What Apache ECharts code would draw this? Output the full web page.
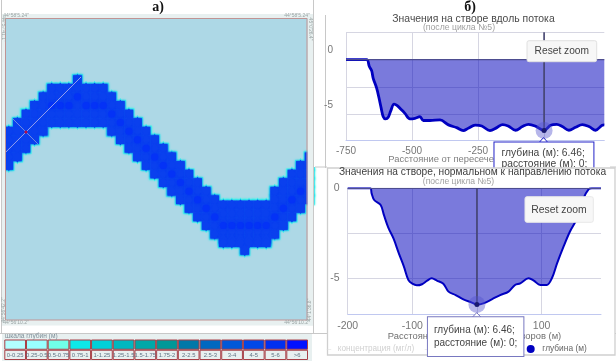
<!DOCTYPE html>
<html><head><meta charset="utf-8">
<style>html,body{margin:0;padding:0;background:#fff}#c{width:616px;height:361px}</style>
<script src="https://cdn.jsdelivr.net/npm/echarts@6/dist/echarts.min.js"></script>
</head><body><div id="c"></div>
<script>
// River depth raster: top and bottom row of the channel in each raster column
const riverTop    = [14,13,12,11,10,9,9,9,8,9,9,9,10,11,12,13,14,15,16,17,18,19,20,21,22,22.6,22.6,22.6,22.6,22.6,22.6,21,20,19,18,17];
const riverBottom = [18,17,16,15,14,13,13,13,13,13,13,13,14,15,16,17,18,19,20,21,22,23,24,25,26,27,27,27,27,27,27,26,25,24,23,22];
const riverBumps  = [[27.5,27.9]];
const deepCells   = [[5,11],[6,11],[7,11],[8,10],[9,11],[10,11],[11,11],[12,12],[13,13],[14,14],[15,15],[16,16],[17,17],[18,18],[19,19],[20,20],[21,21],[22,22],[23,23],[24,24],[25,25],[26,25],[27,25],[28,25],[29,25],[30,25],[31,24],[32,23],[33,22],[34,21]];
const sectionAlong = [[-0.33,16.43],[8.42,7.69]];
const sectionAcross = [[0.49,12.59],[3.4,15.5]];
const sectionCross = [[2.0,14.1]];

const scaleLabels = ['0-0.25','0.25-0.5','0.5-0.75','0.75-1','1-1.25','1.25-1.5','1.5-1.75','1.75-2','2-2.5','2.5-3','3-4','4-5','5-6','>6'];
const scaleColors = ['#b2ffff','#99ffff','#70ffe8','#0de8e8','#00d0d8','#00b8c0','#00a8a8','#009898','#0078a8','#0068c0','#0058d8','#0048e8','#0030f0','#0010ff'];

const alongDist = [-750,-672,-662,-653,-647,-634,-625,-617,-609,-600,-590,-581,-568,-556,-539,-527,-508,-489,-470,-457,-432,-394,-362,-331,-306,-287,-261,-236,-205,-179,-157,-136,-108,-82,-59,-34,0,25,48,69,94,119,145,170,195,220,228];
const alongDepth = [0,0,-0.6,-1,-1.7,-2.6,-3.5,-4.4,-5.2,-5.4,-5.25,-4.7,-4.06,-4.2,-4.6,-4.9,-5.4,-5.35,-5.2,-5.55,-5.55,-5.5,-5.95,-6.2,-6.47,-6.26,-5.98,-6.05,-6.47,-6.2,-5.92,-6.05,-6.44,-6.1,-5.9,-6.05,-6.46,-5.98,-5.9,-6.1,-6.44,-6.17,-5.92,-6.1,-6.44,-5.98,-5.95];
const crossDist = [-200,-165,-163,-159,-149,-144,-137,-129,-121,-113,-106,-100,-93,-85,-77,-70,-62,-52,-44,-33,-21,-8,0,10,23,36,49,59,67,80,88,98,108,116,124,134,144,155,165,173,178,192];
const crossDepth = [0,0,-0.28,-0.65,-0.93,-1.48,-2.2,-2.8,-3.6,-4.35,-5.1,-5.3,-5.39,-5.33,-5.13,-5,-5.13,-5.3,-5.74,-5.93,-6.17,-6.35,-6.46,-6.39,-6.17,-5.93,-5.74,-5.37,-5.28,-5,-5.13,-5.37,-5.37,-5,-4.17,-3.24,-2.4,-1.67,-0.56,-0.05,0,0];
const selectedDepth = 6.46, selectedDist = 0;

const FONT = '"Liberation Sans", Arial, sans-serif';
const cells = [];
riverTop.forEach((t,c)=>{ for(let r=t;r<riverBottom[c];r++) cells.push([c,r]); cells.push([c,riverBottom[c]]); });
riverBumps.forEach(p=>cells.push(p));

function lattice(symbol,size,color,z,extra){
  return {type:'scatter',xAxisIndex:0,yAxisIndex:0,data:cells.map(c=>c.slice()),symbol,symbolSize:size,clip:true,
    itemStyle:Object.assign({color,opacity:1},extra||{}),silent:true,z};
}
function zip(a,b){return a.map((v,i)=>[v,b[i]]);}
function depthChart(ax,x,y,lw,z,tipBorder,tipFont,tipLine,tipPad,tipPos){
  return [
   {type:'line',xAxisIndex:ax,yAxisIndex:ax,data:zip(x,y),smooth:0.35,showSymbol:false,z,
    lineStyle:{color:'#0000c0',width:lw},areaStyle:{color:'#0000bb',opacity:0.52}},
   {type:'line',xAxisIndex:ax,yAxisIndex:ax,data:[[x[0],0],[x[x.length-1],0]],showSymbol:false,z,
    lineStyle:{color:'#4d4d90',width:1.2}},
   {type:'line',xAxisIndex:ax,yAxisIndex:ax,data:[[selectedDist,ax===2?2.5:0],[selectedDist,-selectedDepth]],showSymbol:false,z,
    lineStyle:{color:'#45456f',width:1.6}},
   {type:'scatter',xAxisIndex:ax,yAxisIndex:ax,data:[[selectedDist,-selectedDepth]],symbolSize:17,clip:false,z:z,
    itemStyle:{color:'rgba(80,80,205,0.42)',opacity:1},
    label:{show:true,position:tipPos,backgroundColor:'#fff',borderColor:tipBorder,borderWidth:1,
      padding:tipPad,align:'left',verticalAlign:'top',color:'#444',fontFamily:FONT,fontSize:tipFont,lineHeight:tipLine,
      formatter:()=>'глубина (м): '+selectedDepth+';\nрасстояние (м): '+selectedDist+';'}},
   {type:'scatter',xAxisIndex:ax,yAxisIndex:ax,data:[[selectedDist,-selectedDepth]],symbolSize:5,z:z,clip:false,
    itemStyle:{color:'#1a1a70',opacity:1}}
  ];
}
function tx(text,x,y,size,color,opt,z){
  return {type:'text',x,y,z:z===undefined?10:z,silent:true,style:Object.assign({text,fontFamily:FONT,fontSize:size,fill:color,textAlign:'center',textVerticalAlign:'middle'},opt||{})};
}
function ln(x1,y1,x2,y2,z){return {type:'line',z:z||-8,silent:true,shape:{x1,y1,x2,y2},style:{stroke:'#c8c8c8',lineWidth:1}};}
function rc(x,y,w,h,fill,stroke,z,extra){return {type:'rect',z,silent:true,shape:Object.assign({x,y,width:w,height:h},extra||{}),style:{fill,stroke:stroke||null,lineWidth:stroke?1:0}};}
function arrow(cx,tip,base,stroke,z){return {type:'polyline',z,silent:true,shape:{points:[[cx-5,base+0.6],[cx,tip],[cx+5,base+0.6]]},style:{fill:'#fff',stroke,lineWidth:1}};}

const gray='#9aa4a4';
const corner=(t,x,y,rot)=>({type:'text',x,y,rotation:rot||0,z:10,silent:true,style:{text:t,fontFamily:FONT,fontSize:5,fill:gray,textAlign:'center',textVerticalAlign:'middle'}});

const graphic=[
  rc(2,14,311,311.6,'#e8f0f0',null,-9),
  rc(2,333.5,310,28,'#e8f0f0',null,-9),
  // strips that frame the map on both sides
  rc(307.5,14,5.5,311.6,'#e8f0f0',null,5),
  rc(313,14,7,153,'#ffffff',null,5),
  rc(2,14,3.5,311.6,'#e8f0f0',null,5),
  {type:'rect',z:5,silent:true,shape:{x:5.5,y:18.5,width:301.5,height:301.5},style:{fill:null,stroke:'#c09494',lineWidth:1}},
  ln(1.5,0,1.5,333,6), ln(313.5,0,313.5,333,6), ln(0,333.5,327,333.5), ln(612,333.5,616,333.5),
  ln(315,167,327,167,6), ln(610,167,616,167), ln(325.5,15,325.5,168),
  corner('44°58\'5.24"',16,16), corner('44°58\'5.24"',297,16),
  corner('44°57\'41.1"',3.5,29,-Math.PI/2), corner('45°0\'26.4"',310,29,-Math.PI/2),
  corner('44°56\'10.2"',16,323), corner('44°56\'10.2"',297,323),
  corner('44°56\'42.2"',3.5,310,Math.PI/2), corner('44°1\'36.8"',310,310,Math.PI/2),
  tx('шкала глубин (м)',5,336.3,6.6,'#7e8e98',{textAlign:'left'}),
  tx('а)',158,7.5,14,'#111',{fontFamily:'"Liberation Serif",serif',fontWeight:'bold'}),
  tx('б)',470,7,14,'#111',{fontFamily:'"Liberation Serif",serif',fontWeight:'bold'}),
  // upper profile texts
  tx('Значения на створе вдоль потока',473.5,19,10.4,'#4a4a4a'),
  tx('(после цикла №5)',459,27.7,8.7,'#a0a0a0'),
  tx('Расстояние от пересечения створов (м)',475,159,9.4,'#808080',{},1),
  rc(527,40.7,69.7,21,'#f7f7f7','#e0e0e0',6,{r:2}),
  tx('Reset zoom',561.8,51.2,10.2,'#444',{},6),
  arrow(543.5,137.5,142.7,'#2222c8',5),
  // lower panel
  {type:'rect',z:7,silent:true,shape:{x:327.5,y:168,width:287.5,height:187},style:{fill:'#fff',stroke:'#cfcfcf',lineWidth:1.3}},
  tx('Значения на створе, нормальном к направлению потока',472.5,172,10.2,'#3c3c3c'),
  tx('(после цикла №5)',458.5,182,8.6,'#a0a0a0'),
  tx('Расстояние от пересечения створов (м)',474.5,336.7,9.4,'#707070',{},8),
  rc(525,196.7,68.3,25.6,'#f7f7f7','#e8e8e8',10,{r:2}),
  tx('Reset zoom',559,209.7,10.4,'#444',{},11),
  arrow(476.7,312.7,317.3,'#7878c0',9),
  tx('–',329,349,8,'#ddd',{},8), tx('концентрация (мг/л)',376,349,8.2,'#d0d0d0',{},8), tx('–',427,349,8,'#ddd',{},8),
  {type:'circle',z:8,silent:true,shape:{cx:530.7,cy:349,r:4},style:{fill:'#0000c0'}},
  tx('глубина (м)',564.5,349,8.4,'#666',{},8),
];

const lab=(size)=>({color:'#777',fontFamily:FONT,fontSize:size});
const splitX={show:true,lineStyle:{color:'#d6d6e2',width:1}};
const splitY={show:true,lineStyle:{color:'#d6d6e2',width:1}};
const xAxisLine={show:true,onZero:false,lineStyle:{color:'#c0c8f0',width:1}};

const option={
  animation:false,backgroundColor:'#fff',
  grid:[
    {left:6,top:18,width:306,height:302,show:true,backgroundColor:'#add8e6',borderWidth:0},
    {left:4.3,top:339.5,width:303.7,height:20.5},
    {left:346,top:32.3,width:258.3,height:107.7},
    {left:347.7,top:188.3,width:253.3,height:126}
  ],
  xAxis:[
    {gridIndex:0,type:'value',min:-0.326,max:35.34,show:false},
    {gridIndex:1,type:'category',data:scaleLabels,show:false},
    {gridIndex:2,type:'value',min:-750,max:228,z:1,axisLine:xAxisLine,splitLine:splitX,
      axisTick:{show:false,customValues:[-750,-500,-250,0]},
      axisLabel:Object.assign(lab(10),{margin:6,customValues:[-750,-500,-250]})},
    {gridIndex:3,type:'value',min:-200,max:192,z:8,axisLine:xAxisLine,splitLine:splitX,
      axisTick:{show:false,customValues:[-200,-100,0,100]},
      axisLabel:Object.assign(lab(10.5),{margin:6,customValues:[-200,-100,100]})}
  ],
  yAxis:[
    {gridIndex:0,type:'value',inverse:true,min:0.816,max:36.01,show:false},
    {gridIndex:1,type:'value',min:0,max:2,show:false},
    {gridIndex:2,type:'value',min:-7.33,max:2.5,z:1,axisLine:{show:false},splitLine:splitY,
      axisTick:{show:false,customValues:[2.5,0,-2.5,-5]},
      axisLabel:Object.assign(lab(10),{margin:13,verticalAlign:'bottom',lineHeight:18,customValues:[0,-5]})},
    {gridIndex:3,type:'value',min:-7,max:0,z:8,axisLine:{show:false},splitLine:splitY,
      axisTick:{show:false,customValues:[0,-2.5,-5]},
      axisLabel:Object.assign(lab(10.5),{margin:8,customValues:[0,-5]})}
  ],
  graphic:{elements:graphic},
  series:[
    lattice('rect',11,'#35f4ea',1,{shadowBlur:2,shadowColor:'#35f4ea'}),
    lattice('diamond',[9,15],'#35f4ea',1),
    lattice('rect',8.8,'#0a40ee',2,{shadowBlur:2,shadowColor:'#0a40ee'}),
    lattice('diamond',[8,11.5],'#0a40ee',2),
    {type:'scatter',xAxisIndex:0,yAxisIndex:0,data:deepCells,symbol:'circle',symbolSize:7,itemStyle:{color:'#0432f6',opacity:1,shadowBlur:3,shadowColor:'#0432f6'},z:3},
    {type:'line',xAxisIndex:0,yAxisIndex:0,data:sectionAlong,showSymbol:false,lineStyle:{color:'#b8b8ee',width:0.8},z:4},
    {type:'line',xAxisIndex:0,yAxisIndex:0,data:sectionAcross,showSymbol:false,lineStyle:{color:'#8f9ce0',width:0.8},z:4},
    {type:'scatter',xAxisIndex:0,yAxisIndex:0,data:sectionCross,symbolSize:3,itemStyle:{color:'#c01040',opacity:1},z:4},
    {type:'bar',xAxisIndex:1,yAxisIndex:1,stack:'scale',barWidth:'100%',z:2,
      data:scaleLabels.map(()=>1),
      itemStyle:{color:'#e8f0f0',borderColor:'#a83f46',borderWidth:1},
      label:{show:true,position:'inside',color:'#5f7484',fontFamily:FONT,fontSize:5.9,formatter:p=>p.name}},
    {type:'bar',xAxisIndex:1,yAxisIndex:1,stack:'scale',barWidth:'100%',z:2,
      data:scaleColors.map(c=>({value:1,itemStyle:{color:c}})),
      itemStyle:{borderColor:'#a83f46',borderWidth:1}},
    ...depthChart(2,alongDist,alongDepth,2.8,5,'#2222c8',10.3,11,[5,6,8,7],[-41.1,20.5]),
    ...depthChart(3,crossDist,crossDepth,2,9,'#7878c0',10,13.3,[6,6,6,6],[-40.5,21.2])
  ]
};
const chart=echarts.init(document.getElementById('c'),null,{renderer:'canvas'});
chart.setOption(option);
</script></body></html>
